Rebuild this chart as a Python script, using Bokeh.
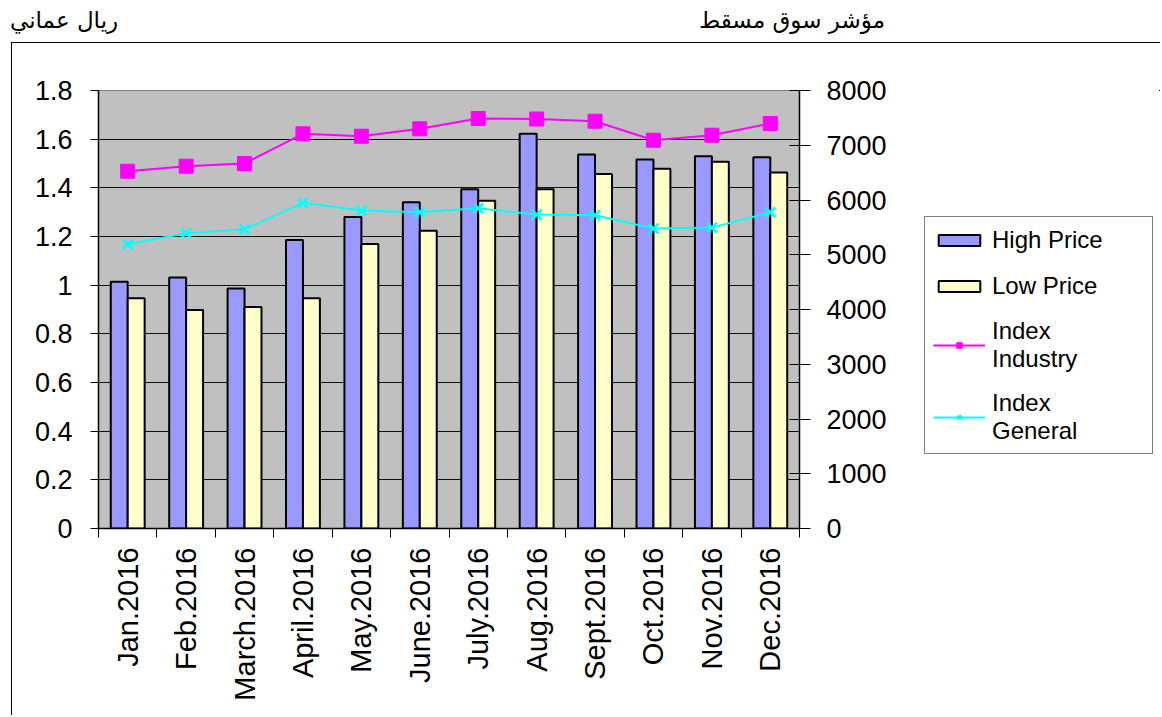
import numpy as np
from bokeh.plotting import figure
from bokeh.layouts import column, row
from bokeh.models import (Range1d, LinearAxis, FixedTicker, Legend, LegendItem, Div,
                          CustomJSTickFormatter, ColumnDataSource)
from bokeh.embed import file_html
from bokeh.resources import INLINE

# ---------------- data ----------------
months = ["Jan.2016", "Feb.2016", "March.2016", "April.2016", "May.2016", "June.2016",
          "July.2016", "Aug.2016", "Sept.2016", "Oct.2016", "Nov.2016", "Dec.2016"]
high_price = [1.014, 1.031, 0.986, 1.186, 1.280, 1.341, 1.394, 1.622, 1.537, 1.516, 1.530, 1.526]
low_price = [0.946, 0.898, 0.910, 0.946, 1.169, 1.224, 1.347, 1.394, 1.457, 1.478, 1.507, 1.463]
index_industry = [6525, 6617, 6666, 7209, 7165, 7300, 7489, 7480, 7439, 7092, 7183, 7397]
index_general = [5191, 5392, 5465, 5948, 5807, 5776, 5849, 5734, 5721, 5478, 5496, 5776]
left_ticks = [0, 0.2, 0.4, 0.6, 0.8, 1.0, 1.2, 1.4, 1.6, 1.8]
right_ticks = [0, 1000, 2000, 3000, 4000, 5000, 6000, 7000, 8000]
title_left = "ريال عماني"
title_right = "مؤشر سوق مسقط"
legend_labels = ["High Price", "Low Price", "Index\nIndustry", "Index\nGeneral"]

idx = np.arange(len(months))
BAR_W = 0.29
src = ColumnDataSource(dict(x=idx, xh=idx - BAR_W / 2, xl=idx + BAR_W / 2,
                            high=high_price, low=low_price,
                            ind=index_industry, gen=index_general))

FONT = "Liberation Sans"
HIGH_C, LOW_C, IND_C, GEN_C, BG = "#9999FF", "#FFFFCC", "#FF00FF", "#00FFFF", "#C0C0C0"


def draw_series(fig, y_name="default"):
    """Draw the four series on a figure; returns the renderers for the legend."""
    rh = fig.vbar(x="xh", top="high", width=BAR_W, source=src, fill_color=HIGH_C,
                  line_color="black", line_width=2)
    rl = fig.vbar(x="xl", top="low", width=BAR_W, source=src, fill_color=LOW_C,
                  line_color="black", line_width=2)
    il = fig.line(x="x", y="ind", source=src, y_range_name=y_name, line_color=IND_C, line_width=2)
    ip = fig.scatter(x="x", y="ind", source=src, y_range_name=y_name, marker="square", size=14,
                     fill_color=IND_C, line_color=IND_C)
    gl = fig.line(x="x", y="gen", source=src, y_range_name=y_name, line_color=GEN_C, line_width=2)
    gp = fig.scatter(x="x", y="gen", source=src, y_range_name=y_name, marker="x", size=14,
                     line_color=GEN_C, line_width=2.5)
    return rh, rl, il, ip, gl, gp


# ---------------- header with the two Arabic captions ----------------
span_style = ("position:absolute;top:7px;font-family:'DejaVu Sans';font-size:23px;"
              "color:black;white-space:nowrap;line-height:27px;")
header = Div(
    text=(f'<div style="position:relative;width:1160px;height:42px;">'
          f'<span style="{span_style}left:10px;">{title_left}</span>'
          f'<span style="{span_style}right:275px;">{title_right}</span></div>'),
    width=1160, height=42, margin=0)

# ---------------- main chart ----------------
H = 672
TOP_B, BOT_B = 47, 187
W = 887
p = figure(width=W, height=H, output_backend="svg", toolbar_location=None,
           x_range=Range1d(-0.5, len(months) - 0.5), y_range=Range1d(0, 1.8),
           min_border_left=86, min_border_right=100, min_border_top=TOP_B,
           min_border_bottom=BOT_B)
p.extra_y_ranges = {"idx": Range1d(0, 8000)}
p.background_fill_color = BG
p.border_fill_color = "white"
p.outline_line_color = "#808080"
draw_series(p, "idx")

# ---- axes ----
xa = p.xaxis[0]
xa.ticker = FixedTicker(ticks=list(idx), minor_ticks=[i - 0.5 for i in range(len(months) + 1)])
xa.major_label_overrides = {int(i): m for i, m in zip(idx, months)}
xa.major_label_orientation = np.pi / 2
xa.major_tick_out = 0
xa.major_tick_in = 0
xa.minor_tick_out = 9
xa.minor_tick_in = 0
xa.minor_tick_line_color = "black"
xa.axis_line_color = "black"
xa.axis_line_width = 1.5
xa.major_label_standoff = 10
xa.major_label_text_font = FONT
xa.major_label_text_font_size = "29px"
xa.major_label_text_color = "black"

ya = p.yaxis[0]
ya.ticker = FixedTicker(ticks=left_ticks)
ya.formatter = CustomJSTickFormatter(code="return (Math.round(tick*10)/10).toString()")
ya.major_tick_out = 8
ya.major_tick_in = 0
ya.minor_tick_line_color = None
ya.axis_line_color = "black"
ya.axis_line_width = 1.5
ya.major_label_standoff = 18
ya.major_label_text_font = FONT
ya.major_label_text_font_size = "27px"
ya.major_label_text_color = "black"
p.ygrid[0].ticker = FixedTicker(ticks=left_ticks)
p.ygrid.grid_line_color = "#111111"
p.ygrid.grid_line_width = 1.2
p.xgrid.grid_line_color = None

ra = LinearAxis(y_range_name="idx", ticker=FixedTicker(ticks=right_ticks))
ra.major_tick_out = 11
ra.major_tick_in = 10
ra.minor_tick_line_color = None
ra.axis_line_color = "black"
ra.axis_line_width = 1.5
ra.major_label_standoff = 16
ra.major_label_text_font = FONT
ra.major_label_text_font_size = "27px"
ra.major_label_text_color = "black"
p.add_layout(ra, "right")

# ---------------- legend panel (separate figure to the right) ----------------
# The series are drawn here again, outside this panel's view, only to feed the legend.
LW = 261
lf = figure(width=LW, height=H, output_backend="svg", toolbar_location=None,
            x_range=Range1d(-200, -199), y_range=Range1d(-200, -199),
            x_axis_type=None, y_axis_type=None,
            min_border_left=0, min_border_right=0, min_border_top=TOP_B,
            min_border_bottom=BOT_B)
lf.outline_line_color = None
lf.background_fill_color = "white"
lf.border_fill_color = "white"
lf.grid.visible = False
g_high, g_low, g_il, g_ip, g_gl, g_gp = draw_series(lf)

legend = Legend(items=[
    LegendItem(label=legend_labels[0], renderers=[g_high]),
    LegendItem(label=legend_labels[1], renderers=[g_low]),
    LegendItem(label=legend_labels[2], renderers=[g_il, g_ip]),
    LegendItem(label=legend_labels[3], renderers=[g_gl, g_gp]),
], location=(25, 74), margin=0, padding=8, spacing=16,
    glyph_width=52, glyph_height=14, label_standoff=7, label_width=152, label_height=30,
    label_text_font=FONT, label_text_font_size="24px", label_text_line_height=1.2,
    label_text_color="black",
    border_line_color="black", border_line_width=1, background_fill_color="white",
    background_fill_alpha=1)
lf.add_layout(legend)

body = row(p, lf, spacing=0)
body.margin = (0, 0, 0, 11)
body.styles = {"border-top": "1px solid black", "border-left": "1px solid black"}

layout = column(header, body, spacing=0)
open("out.html", "w").write(file_html(layout, INLINE))
